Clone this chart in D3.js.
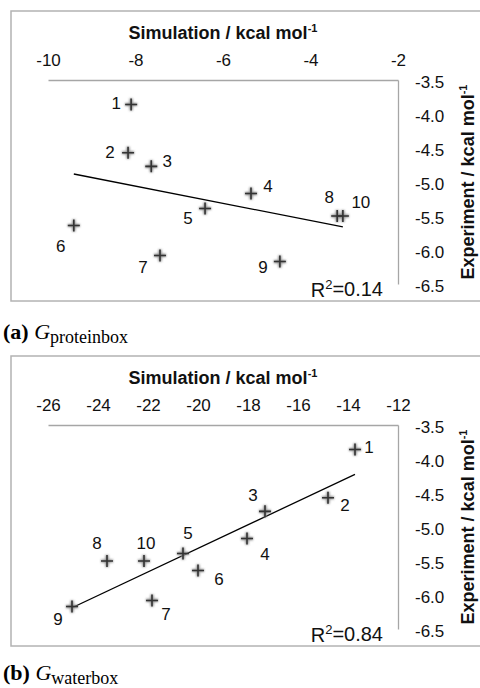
<!DOCTYPE html>
<html>
<head>
<meta charset="utf-8">
<script src="https://cdn.jsdelivr.net/npm/d3@7"></script>
<style>
  html, body { margin: 0; padding: 0; background: #fff; overflow: hidden; }
  svg { display: block; }
</style>
</head>
<body>
<svg id="chart" width="480" height="688"></svg>
<script>
// ---- data ----
const pointLabels = ["1", "2", "3", "4", "5", "6", "7", "8", "9", "10"];
const experiment = [-3.86, -4.57, -4.77, -5.17, -5.39, -5.64, -6.08, -5.50, -6.17, -5.50];
const simProteinbox = [-8.10, -8.17, -7.64, -5.36, -6.41, -9.41, -7.44, -3.39, -4.70, -3.26];
const simWaterbox = [-13.72, -14.80, -17.32, -18.04, -20.60, -20.00, -21.84, -23.64, -25.04, -22.16];
const xTicksProteinbox = [-10, -8, -6, -4, -2];
const xTicksWaterbox = [-26, -24, -22, -20, -18, -16, -14, -12];
const yTicks = [-3.5, -4.0, -4.5, -5.0, -5.5, -6.0, -6.5];
const r2Values = ["0.14", "0.84"];
const captionLetters = ["(a)", "(b)"];
const captionSubs = ["proteinbox", "waterbox"];
const xTitle = "Simulation / kcal mol";
const yTitle = "Experiment / kcal mol";

// label placement (offsets from marker, px) — presentation only
const labelOffsetsA = [[-15,-2],[-18,-1],[16,-5],[17,-8],[-17,9],[-13,20],[-17,11],[-8,-19],[-17,5],[18,-14]];
const labelOffsetsB = [[14,-3],[17,7],[-12,-16],[18,15],[5,-21],[21,8],[14,13],[-10,-18],[-14,12],[2,-18]];

const svg = d3.select("#chart");
const defs = svg.append("defs");
defs.append("filter").attr("id", "soft").attr("x", "-50%").attr("y", "-50%").attr("width", "200%").attr("height", "200%")
  .append("feGaussianBlur").attr("stdDeviation", 1.1);

const SANS = "'Liberation Sans', Arial, sans-serif";
const SERIF = "'Liberation Serif', 'Times New Roman', serif";

const panels = [
  { sim: simProteinbox, xDomain: [-10, -2], xTicks: xTicksProteinbox, offsets: labelOffsetsA, r2: r2Values[0], letter: captionLetters[0], sub: captionSubs[0], dy: 0, capY: 339 },
  { sim: simWaterbox, xDomain: [-26, -12], xTicks: xTicksWaterbox, offsets: labelOffsetsB, r2: r2Values[1], letter: captionLetters[1], sub: captionSubs[1], dy: 345, capY: 335 }
];

const plot = { left: 48, right: 398, top: 80, bottom: 284 };

panels.forEach(p => {
  const g = svg.append("g").attr("transform", `translate(0,${p.dy})`);

  // outer frame (extends beyond the right edge)
  g.append("rect").attr("x", 11).attr("y", 11).attr("width", 500).attr("height", 290)
    .attr("fill", "none").attr("stroke", "#b3b3b3").attr("stroke-width", 1.5);

  const x = d3.scaleLinear().domain(p.xDomain).range([plot.left, plot.right]);
  const y = d3.scaleLinear().domain([-3.5, -6.5]).range([plot.top, plot.bottom]);

  // top x axis
  const xAxis = g.append("g").attr("transform", `translate(0,${plot.top})`)
    .call(d3.axisTop(x).tickValues(p.xTicks).tickSize(0).tickPadding(14).tickFormat(d => String(d)));
  xAxis.select(".domain").attr("stroke", "#a6a6a6").attr("stroke-width", 1.3);
  xAxis.selectAll("text").attr("font-family", SANS).attr("font-size", 17).attr("fill", "#111");

  // right y axis
  const yAxis = g.append("g").attr("transform", `translate(${plot.right},0)`)
    .call(d3.axisRight(y).tickValues(yTicks).tickSize(0).tickPadding(17).tickFormat(d => d.toFixed(1)));
  yAxis.select(".domain").attr("stroke", "#a6a6a6").attr("stroke-width", 1.3);
  yAxis.selectAll("text").attr("font-family", SANS).attr("font-size", 17).attr("fill", "#111").attr("dy", "0.45em");

  // axis titles
  const xt = g.append("text").attr("x", (plot.left + plot.right) / 2).attr("y", 38.5)
    .attr("text-anchor", "middle").attr("font-family", SANS).attr("font-size", 18)
    .attr("font-weight", "bold").attr("fill", "#111").text(xTitle);
  xt.append("tspan").attr("font-size", 11).attr("dy", "-0.6em").text("-1");

  const yt = g.append("text").attr("transform", `translate(474,${(plot.top + plot.bottom) / 2}) rotate(-90)`)
    .attr("text-anchor", "middle").attr("font-family", SANS).attr("font-size", 18)
    .attr("font-weight", "bold").attr("fill", "#111").text(yTitle);
  yt.append("tspan").attr("font-size", 11).attr("dy", "-0.6em").text("-1");

  // regression line
  const n = p.sim.length;
  const mx = d3.mean(p.sim), my = d3.mean(experiment);
  let sxy = 0, sxx = 0;
  for (let i = 0; i < n; i++) { sxy += (p.sim[i] - mx) * (experiment[i] - my); sxx += (p.sim[i] - mx) ** 2; }
  const slope = sxy / sxx, icpt = my - slope * mx;
  const [x0, x1] = d3.extent(p.sim);
  g.append("line").attr("x1", x(x0)).attr("y1", y(slope * x0 + icpt))
    .attr("x2", x(x1)).attr("y2", y(slope * x1 + icpt))
    .attr("stroke", "#000").attr("stroke-width", 1.3);

  // markers
  const pts = p.sim.map((s, i) => ({ s, e: experiment[i], lab: pointLabels[i], off: p.offsets[i] }));
  const plusPath = "M-6,0H6M0,-6V6";
  g.selectAll(".glow").data(pts).join("path").attr("class", "glow")
    .attr("transform", d => `translate(${x(d.s)},${y(d.e)})`)
    .attr("d", plusPath).attr("stroke", "#888").attr("stroke-width", 3.2).attr("fill", "none")
    .attr("filter", "url(#soft)");
  g.selectAll(".plus").data(pts).join("path").attr("class", "plus")
    .attr("transform", d => `translate(${x(d.s)},${y(d.e)})`)
    .attr("d", plusPath).attr("stroke", "#333").attr("stroke-width", 1.6).attr("fill", "none");

  // point labels
  g.selectAll(".plab").data(pts).join("text").attr("class", "plab")
    .attr("x", d => x(d.s) + d.off[0]).attr("y", d => y(d.e) + d.off[1])
    .attr("dy", "0.36em").attr("text-anchor", "middle")
    .attr("font-family", SANS).attr("font-size", 17).attr("fill", "#111").text(d => d.lab);

  // R² label
  const r2 = g.append("text").attr("x", 383).attr("y", 296.5).attr("text-anchor", "end")
    .attr("font-family", SANS).attr("font-size", 20).attr("fill", "#111").text("R");
  r2.append("tspan").attr("font-size", 13).attr("dy", "-0.55em").text("2");
  r2.append("tspan").attr("dy", "0.357em").text("=" + p.r2);

  // caption
  const cap = g.append("text").attr("x", 3).attr("y", p.capY).attr("font-family", SERIF)
    .attr("font-size", 22).attr("fill", "#000");
  cap.append("tspan").attr("font-weight", "bold").text(p.letter + " ");
  cap.append("tspan").attr("font-style", "italic").text("G");
  cap.append("tspan").attr("font-size", 18).attr("dy", 4).text(p.sub);
});
</script>
</body>
</html>
